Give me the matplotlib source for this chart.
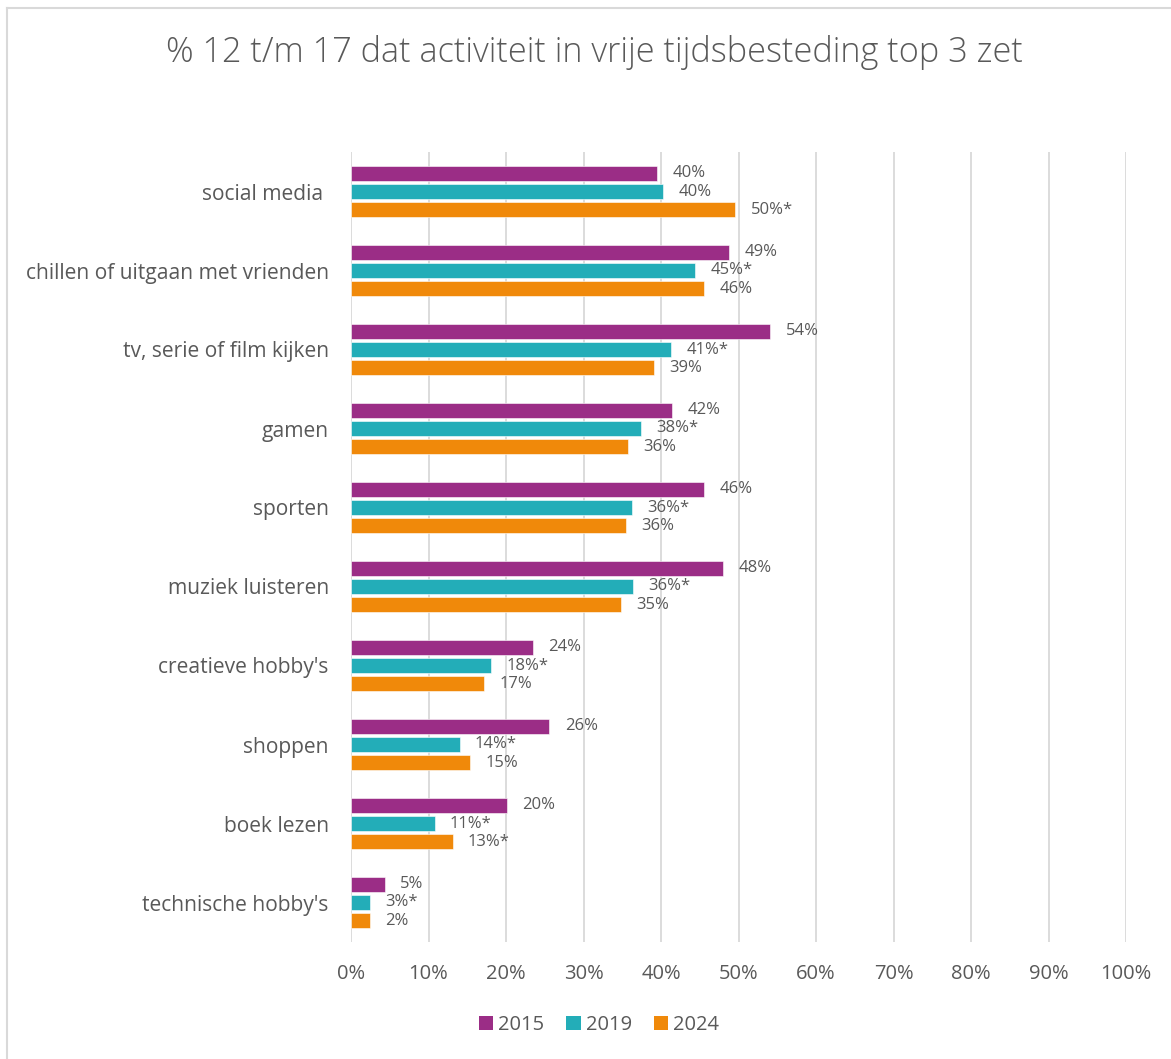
import numpy as np
import matplotlib.pyplot as plt
from matplotlib.lines import Line2D
from matplotlib.patches import Patch

categories = ["social media ", "chillen of uitgaan met vrienden", "tv, serie of film kijken",
              "gamen", "sporten", "muziek luisteren", "creatieve hobby's",
              "shoppen", "boek lezen", "technische hobby's"]
years = ["2015", "2019", "2024"]

v2015 = [39.5, 48.8, 54.1, 41.4, 45.6, 48.0, 23.5, 25.6, 20.1, 4.4]
v2019 = [40.3, 44.4, 41.3, 37.4, 36.2, 36.4, 18.1, 14.0, 10.8, 2.5]
v2024 = [49.6, 45.6, 39.1, 35.7, 35.5, 34.8, 17.2, 15.4, 13.1, 2.4]

l2015 = ["40%", "49%", "54%", "42%", "46%", "48%", "24%", "26%", "20%", "5%"]
l2019 = ["40%", "45%*", "41%*", "38%*", "36%*", "36%*", "18%*", "14%*", "11%*", "3%*"]
l2024 = ["50%*", "46%", "39%", "36%", "36%", "35%", "17%", "15%", "13%*", "2%"]

colors = ["#9B2D86", "#23ADB8", "#F0890A"]
txt = "#595959"
grid = "#D9D9D9"

plt.rcParams['font.family'] = ['Open Sans', 'DejaVu Sans']

fig = plt.figure(figsize=(11.71, 10.59), dpi=100)
ax = fig.add_axes([351 / 1171, 1 - 942 / 1059, 775 / 1171, 790 / 1059])

y = np.arange(len(categories))
h = 0.2
step = 0.228
series = [(v2015, l2015), (v2019, l2019), (v2024, l2024)]
for i, (vals, labs) in enumerate(series):
    pos = y + (i - 1) * step
    ax.barh(pos, vals, height=h, color=colors[i], edgecolor="white", linewidth=0.4,
            label=years[i], zorder=3)
    for p, v, s in zip(pos, vals, labs):
        ax.annotate(s, (v, p), xytext=(11, 0), textcoords="offset points",
                    va="center", ha="left", fontsize=12, color=txt)

ax.set_xlim(0, 100)
ax.set_ylim(len(categories) - 0.5, -0.5)
ax.set_xticks(np.arange(0, 101, 10))
ax.set_xticklabels([f"{t}%" for t in range(0, 101, 10)])
ax.set_yticks(y)
ax.set_yticklabels(categories)
ax.grid(axis="x", color=grid, linewidth=1.3, zorder=0)
ax.tick_params(length=0, labelsize=14.5, labelcolor=txt)
ax.tick_params(axis="x", pad=16)
ax.tick_params(axis="y", pad=16, labelsize=15.1)
for s in ax.spines.values():
    s.set_visible(False)

fig.suptitle("% 12 t/m 17 dat activiteit in vrije tijdsbesteding top 3 zet",
             x=0.508, y=1 - 52 / 1059, va="center", fontsize=24.7, color=txt,
             fontweight="light")

handles = [Patch(facecolor=c, label=yr) for c, yr in zip(colors, years)]
fig.legend(handles=handles, loc="center", bbox_to_anchor=(599 / 1171, 1 - 1025 / 1059),
           ncol=3, frameon=False, fontsize=14.5, labelcolor=txt, handlelength=0.7,
           handleheight=0.7, handletextpad=0.25, columnspacing=1.1)

fig.add_artist(Line2D([6.5 / 1171, 6.5 / 1171], [0, 1 - 7.5 / 1059], color=grid, linewidth=1.5))
fig.add_artist(Line2D([6.5 / 1171, 1], [1 - 7.5 / 1059, 1 - 7.5 / 1059], color=grid, linewidth=1.5))

fig.savefig("out.png", dpi=100, facecolor="white")
